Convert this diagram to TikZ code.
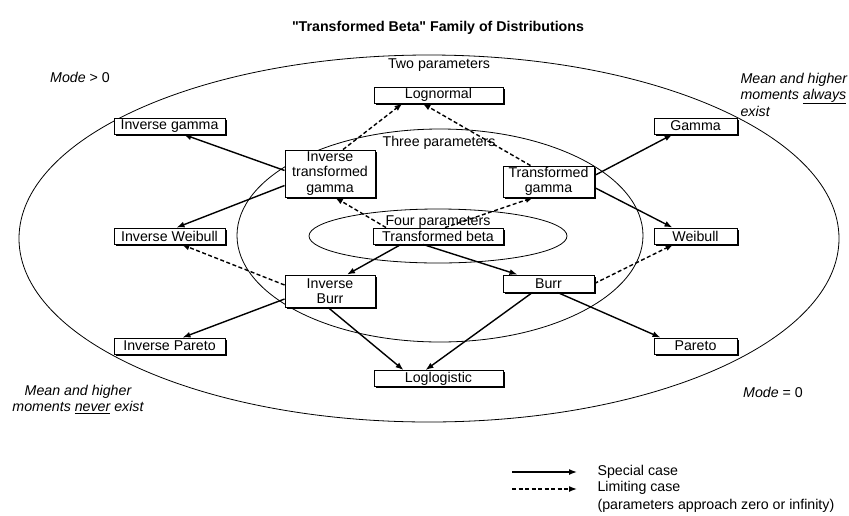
\documentclass[tikz,border=0pt]{standalone}
\usepackage{fontspec}
\setmainfont{Liberation Sans}[Ligatures=TeXReset]
\usetikzlibrary{arrows.meta, shadows}

\begin{document}
\begin{tikzpicture}[
    x=1pt, y=-1pt,
    >={Latex[length=8pt, width=6pt]},
    font=\fontsize{14.2}{15.5}\selectfont,
    dist/.style={draw, line width=0.9pt, fill=white, inner sep=0pt, align=center,
        minimum height=16pt,
        drop shadow={shadow xshift=1.8pt, shadow yshift=-1.8pt, fill=black, opacity=1}},
    special/.style={->, line width=1.4pt},
    limiting/.style={->, line width=1.4pt, dash pattern=on 4pt off 2.5pt},
    region/.style={line width=0.8pt},
    note/.style={font=\fontsize{14.2}{15.5}\selectfont\itshape}
]
\useasboundingbox (0,0) rectangle (849,515);

% title
\node[font=\fontsize{14.2}{15.5}\selectfont\bfseries] (title) at (438,28) {"Transformed Beta" Family of Distributions};

% parameter regions
\draw[region] (429,238.5) ellipse [x radius=410pt, y radius=183.5pt];
\draw[region] (440,235.5) ellipse [x radius=203pt, y radius=106.5pt];
\draw[region] (438,236) ellipse [x radius=129pt, y radius=27pt];

\node (two) at (439,65) {Two parameters};
\node (three) at (439,143) {Three parameters};
\node (four) at (438,222) {Four parameters};

% corner notes
\node (modepos) at (80,77) {\textit{Mode} > 0};
\node (modezero) at (773,392) {\textit{Mode} = 0};
\node[note, anchor=north west, align=left] (always) at (737,70) {Mean and higher\\moments \underline{always}\\[2pt]exist};
\node[note, align=center] (never) at (78,399.5) {Mean and higher\\moments \underline{never} exist};

% distributions
\node[dist, minimum width=129pt] (logn) at (438.5,95) {Lognormal};
\node[dist, minimum width=111pt] (igam) at (169.5,126) {Inverse gamma};
\node[dist, minimum width=83pt] (gam) at (695.5,126) {Gamma};
\node[dist, minimum width=90pt, minimum height=47pt] (itg) at (330,173.5) {Inverse\\transformed\\gamma};
\node[dist, minimum width=91pt, minimum height=31pt] (tg) at (548.5,181.5) {Transformed\\gamma};
\node[dist, minimum width=111pt] (iweib) at (169.5,236) {Inverse Weibull};
\node[dist, minimum width=130pt] (tb) at (438,236) {Transformed beta};
\node[dist, minimum width=83pt] (weib) at (695.5,236) {Weibull};
\node[dist, minimum width=90pt, minimum height=32pt] (iburr) at (330,291) {Inverse\\Burr};
\node[dist, minimum width=91pt, minimum height=17pt] (burr) at (548.5,283.5) {Burr};
\node[dist, minimum width=111pt] (ipar) at (169.5,346) {Inverse Pareto};
\node[dist, minimum width=83pt] (par) at (695.5,346) {Pareto};
\node[dist, minimum width=129pt] (loglog) at (438.5,378.5) {Loglogistic};

% special cases
\draw[special] ([yshift=3pt]itg.west) -- ([xshift=14pt]igam.south);
\draw[special] ([yshift=-12pt]itg.west) -- ([xshift=7pt]iweib.north);
\draw[special] ([yshift=6pt]tg.east) -- ([xshift=-23pt]gam.south);
\draw[special] ([yshift=-6pt]tg.east) -- ([xshift=-23pt]weib.north);
\draw[special] ([xshift=-37pt]tb.south) -- ([xshift=17pt]iburr.north);
\draw[special] ([xshift=-15pt]tb.south) -- ([xshift=-31pt]burr.north);
\draw[special] ([yshift=-8pt]iburr.west) -- ([xshift=13pt]ipar.north);
\draw[special] ([xshift=-2pt]iburr.south) -- ([xshift=-35pt]loglog.north);
\draw[special] ([xshift=-16pt]burr.south) -- ([xshift=-13pt]loglog.north);
\draw[special] ([xshift=9pt]burr.south) -- ([xshift=-35pt]par.north);

% limiting cases
\draw[limiting] ([xshift=13pt]itg.north) -- ([xshift=-36pt]logn.south);
\draw[limiting] ([xshift=-18pt]tg.north) -- ([xshift=-16pt]logn.south);
\draw[limiting] ([xshift=-52pt]tb.north) -- ([xshift=5pt]itg.south);
\draw[limiting] ([xshift=7pt]tb.north) -- ([xshift=-15pt]tg.south);
\draw[limiting] ([yshift=6pt]iburr.west) -- ([xshift=12pt]iweib.south);
\draw[limiting] (burr.east) -- ([xshift=-22pt]weib.south);

% legend
\coordinate (sc1) at (512,472);
\coordinate (sc2) at (577,472);
\coordinate (lc1) at (512,489);
\coordinate (lc2) at (577,489);
\draw[special] (sc1) -- (sc2);
\draw[limiting] (lc1) -- (lc2);
\node[anchor=west] (sclbl) at (594,472) {Special case};
\node[anchor=west] (lclbl) at (594,488) {Limiting case};
\node[anchor=west] (lcnote) at (594,506) {(parameters approach zero or infinity)};

\end{tikzpicture}
\end{document}
